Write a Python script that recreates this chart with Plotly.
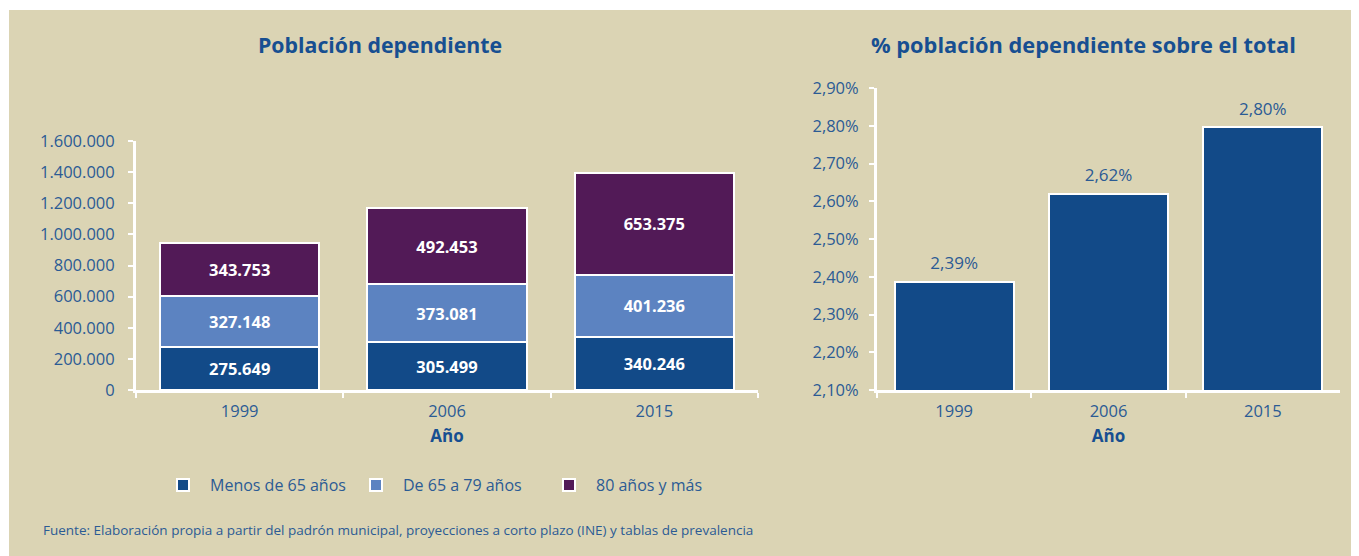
import plotly.graph_objects as go

# page body has an 8px default margin; figure sized to fill the rest of the window
OFF = 8
W, H = 1359 - OFF, 556 - OFF

years = ["1999", "2006", "2015"]
menos65 = [275649, 305499, 340246]
de65a79 = [327148, 373081, 401236]
mas80 = [343753, 492453, 653375]
pct_dep = [0.02386, 0.0262, 0.02796]

series_names = ["Menos de 65 años", "De 65 a 79 años", "80 años y más"]
series_colors = ["#124a88", "#5c83c1", "#521a57"]

BG = "#dbd4b4"
BLUE_TXT = "#2b5b94"
TITLE_C = "#174f91"
FONT = "Open Sans"

def px_x(p):
    return (p - OFF) / W

def px_y(p):
    return 1 - (p - OFF) / H

fig = go.Figure()

for name, vals, col in zip(series_names, [menos65, de65a79, mas80], series_colors):
    fig.add_trace(go.Bar(
        x=years, y=vals, name=name, xaxis="x", yaxis="y",
        marker=dict(color=col, line=dict(color="white", width=2)),
        width=0.77,
        texttemplate="%{y:,.0f}", textposition="inside", insidetextanchor="middle",
        textfont=dict(color="white", size=16.5, family=FONT, weight="bold"),
        hoverinfo="skip",
    ))

fig.add_trace(go.Bar(
    x=years, y=pct_dep, xaxis="x2", yaxis="y2", showlegend=False,
    marker=dict(color="#124a88", line=dict(color="white", width=2)),
    width=0.77, hoverinfo="skip",
))

fig.add_trace(go.Scatter(
    x=years, y=pct_dep, xaxis="x2", yaxis="y2", showlegend=False,
    mode="markers+text", marker=dict(size=12, color="rgba(0,0,0,0)"),
    texttemplate="%{y:.2%}", textposition="top center", cliponaxis=False,
    textfont=dict(size=17, color=BLUE_TXT, family=FONT), hoverinfo="skip",
))

axis_common = dict(
    showgrid=False, zeroline=False, showline=True, linecolor="white", linewidth=3,
    ticks="outside", tickcolor="white", tickwidth=2, ticklen=5,
    tickfont=dict(color=BLUE_TXT, size=16.5, family=FONT), automargin=False,
)

fig.update_layout(
    width=W, height=H,
    margin=dict(l=0, r=0, t=0, b=0),
    paper_bgcolor="white", plot_bgcolor="rgba(0,0,0,0)",
    separators=",.",
    barmode="stack",
    font=dict(family=FONT, color=BLUE_TXT),
    xaxis=dict(domain=[px_x(136), px_x(758)], anchor="y", type="category",
               tickson="boundaries", ticklabelstandoff=4,
               title=dict(text="<b>Año</b>", font=dict(size=17, color=TITLE_C), standoff=10),
               **axis_common),
    yaxis=dict(domain=[px_y(390), px_y(141)], anchor="x", range=[0, 1600000],
               dtick=200000, tickformat=",.0f", ticklabelstandoff=10, **axis_common),
    xaxis2=dict(domain=[px_x(877), px_x(1340)], anchor="y2", type="category",
                tickson="boundaries", ticklabelstandoff=4,
                title=dict(text="<b>Año</b>", font=dict(size=17, color=TITLE_C), standoff=10),
                **axis_common),
    yaxis2=dict(domain=[px_y(390), px_y(88)], anchor="x2", range=[0.021, 0.029],
                dtick=0.001, tickformat=".2%", ticklabelstandoff=7, **axis_common),
    legend=dict(orientation="h", x=px_x(156), y=px_y(485), xanchor="left", yanchor="middle",
                font=dict(size=16, color=BLUE_TXT, family=FONT), bgcolor="rgba(0,0,0,0)",
                entrywidth=134, entrywidthmode="pixels", itemwidth=44, traceorder="normal"),
    shapes=[dict(type="rect", xref="paper", yref="paper", x0=px_x(9), x1=1.02, y0=-0.02,
                 y1=px_y(10), fillcolor=BG, line=dict(width=0), layer="below")],
    annotations=[
        dict(text="<b>Población dependiente</b>", x=px_x(380), y=px_y(44), xref="paper", yref="paper",
             showarrow=False, font=dict(size=21.3, color=TITLE_C, family=FONT), xanchor="center", yanchor="middle"),
        dict(text="<b>% población dependiente sobre el total</b>", x=px_x(1083), y=px_y(44), xref="paper",
             yref="paper", showarrow=False, font=dict(size=21.8, color=TITLE_C, family=FONT),
             xanchor="center", yanchor="middle"),
        dict(text="Fuente: Elaboración propia a partir del padrón municipal, proyecciones a corto plazo (INE) y tablas de prevalencia",
             x=px_x(41), y=px_y(530), xref="paper", yref="paper", showarrow=False,
             font=dict(size=13.5, color=BLUE_TXT, family=FONT), xanchor="left", yanchor="middle"),
    ],
)

fig.write_html("out.html")
